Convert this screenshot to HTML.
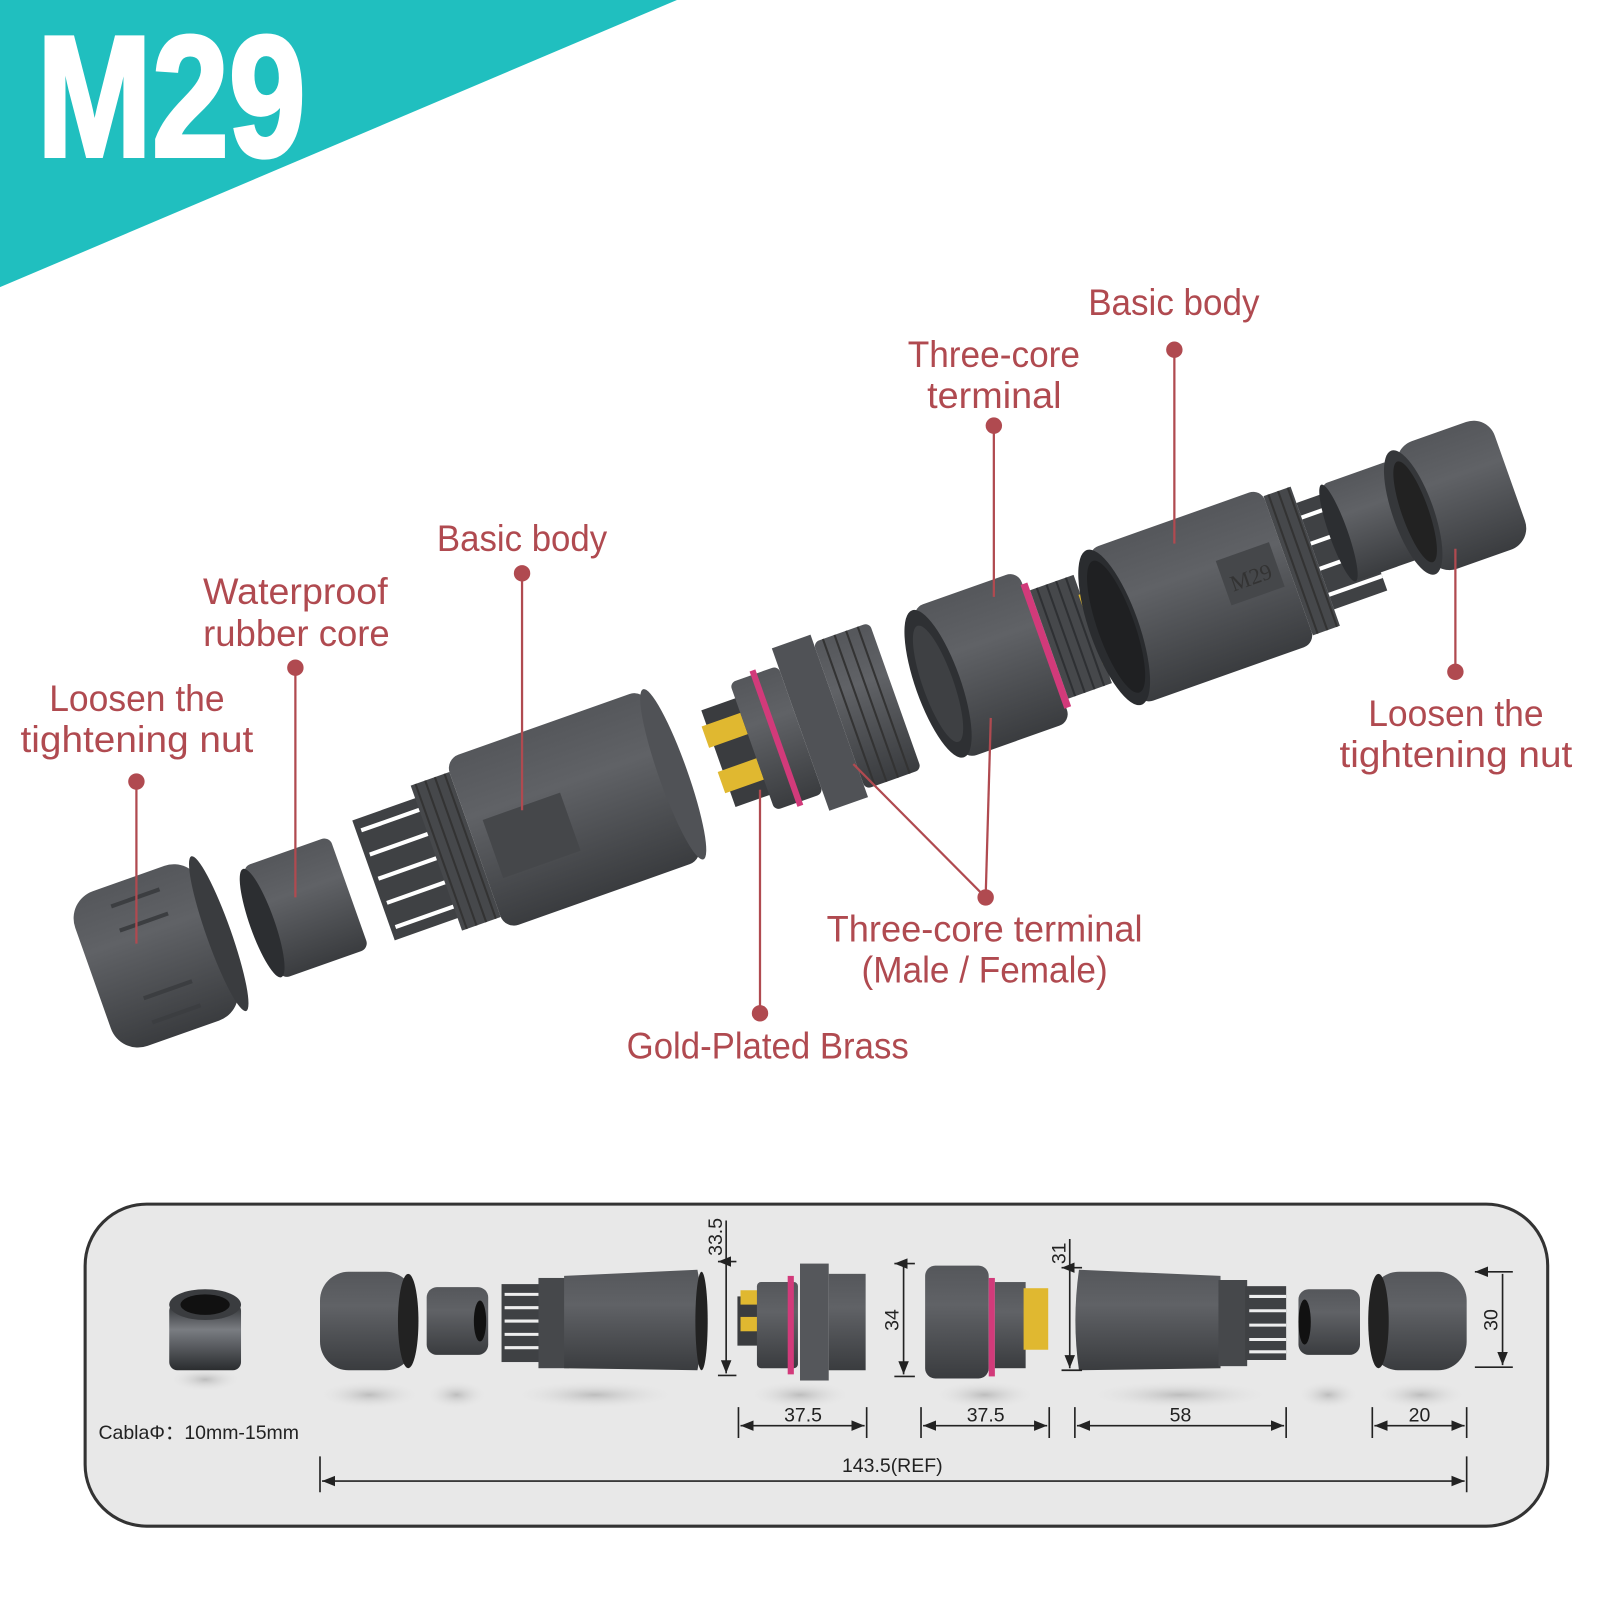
<!DOCTYPE html>
<html><head><meta charset="utf-8"><style>
html,body{margin:0;padding:0;background:#fff;}
svg{display:block}
.lb{font-family:"Liberation Sans Narrow","Liberation Sans",sans-serif;fill:#b04a50;font-size:36px}
.dm{font-family:"Liberation Sans Narrow","Liberation Sans",sans-serif;fill:#222;font-size:19px}
.ln{stroke:#b04a50;stroke-width:2.2;fill:none}
.dl{stroke:#222;stroke-width:1.6;fill:none}
</style></head><body>
<svg width="1600" height="1600" viewBox="0 0 1560 1560" xmlns="http://www.w3.org/2000/svg">
<defs>
<linearGradient id="g" x1="0" y1="0" x2="0" y2="1">
<stop offset="0" stop-color="#55575b"/><stop offset="0.35" stop-color="#606266"/><stop offset="1" stop-color="#3a3c3f"/></linearGradient>
<linearGradient id="gs" x1="0" y1="0" x2="0" y2="1">
<stop offset="0" stop-color="#2a2c2f"/><stop offset="0.4" stop-color="#7a7d82"/><stop offset="1" stop-color="#2a2c2f"/></linearGradient>
<radialGradient id="sh"><stop offset="0" stop-color="#bdbdbd"/><stop offset="1" stop-color="#e8e8e8" stop-opacity="0"/></radialGradient>
<marker id="ar" viewBox="0 0 10 10" refX="10" refY="5" markerWidth="8" markerHeight="8" orient="auto-start-reverse"><path d="M0,1 L10,5 L0,9 z" fill="#222"/></marker>
</defs>
<polygon points="0,0 660,0 0,280" fill="#20bfbf"/>
<text x="36" y="152" font-family="'Liberation Sans',sans-serif" font-weight="bold" font-size="168" fill="#fff" textLength="262" lengthAdjust="spacingAndGlyphs" stroke="#fff" stroke-width="4">M29</text>

<!-- exploded parts -->
<g transform="translate(152,932) rotate(-19.5)">
<rect x="-65" y="-80" width="130" height="160" rx="28" fill="url(#g)"/>
<ellipse cx="65" cy="0" rx="12" ry="80" fill="#3a3c3f"/>
<path d="M-25,-60 h50 M-25,-35 h50 M-25,35 h50 M-25,60 h50" stroke="#3c3e41" stroke-width="4"/>
</g>
<g transform="translate(298,885) rotate(-19.5)">
<rect x="-45" y="-58" width="90" height="116" rx="8" fill="url(#g)"/>
<ellipse cx="-45" cy="0" rx="12" ry="56" fill="#2c2e31"/>
</g>
<g transform="translate(515,805) rotate(-19.5)">
<rect x="-160" y="-62" width="70" height="124" fill="#3f4144"/>
<path d="M-155,-50 h60 M-155,-25 h60 M-155,0 h60 M-155,25 h60 M-155,50 h60" stroke="#fff" stroke-width="4"/>
<rect x="-95" y="-75" width="40" height="150" fill="#46484b"/>
<path d="M-90,-75 v150 M-80,-75 v150 M-70,-75 v150 M-60,-75 v150" stroke="#333" stroke-width="2"/>
<rect x="-55" y="-88" width="205" height="176" rx="14" fill="url(#g)"/>
<ellipse cx="150" cy="0" rx="14" ry="88" fill="#505256"/>
<rect x="-40" y="-20" width="80" height="60" fill="#45474a"/>
</g>
<g transform="translate(790,708) rotate(-19.5)">
<rect x="-95" y="-50" width="40" height="100" fill="#3a3c3f"/>
<rect x="-100" y="-35" width="40" height="22" fill="#e0b830"/>
<rect x="-100" y="12" width="40" height="22" fill="#e0b830"/>
<rect x="-60" y="-66" width="50" height="132" rx="6" fill="url(#g)"/>
<rect x="-38" y="-70" width="6" height="140" fill="#d23a7a"/>
<rect x="-10" y="-84" width="40" height="168" fill="#505256"/>
<rect x="30" y="-76" width="58" height="152" rx="6" fill="url(#g)"/>
<path d="M40,-76 v152 M52,-76 v152 M64,-76 v152 M76,-76 v152" stroke="#333" stroke-width="2"/>
</g>
<g transform="translate(990,640) rotate(-19.5)">
<rect x="-80" y="-78" width="110" height="156" rx="12" fill="url(#g)"/>
<ellipse cx="-80" cy="0" rx="22" ry="76" fill="#2e3033"/>
<ellipse cx="-80" cy="0" rx="15" ry="60" fill="#3e4043"/>
<rect x="28" y="-64" width="7" height="128" fill="#d23a7a"/>
<rect x="35" y="-56" width="45" height="112" fill="#46484b"/>
<path d="M42,-56 v112 M52,-56 v112 M62,-56 v112 M72,-56 v112" stroke="#2e3033" stroke-width="2"/>
<rect x="78" y="-36" width="22" height="20" fill="#e0b830"/>
<rect x="78" y="16" width="22" height="20" fill="#e0b830"/>
</g>
<g transform="translate(1190,575) rotate(-19.5)">
<rect x="-110" y="-80" width="180" height="160" rx="12" fill="url(#g)"/>
<ellipse cx="-110" cy="0" rx="24" ry="80" fill="#2a2c2f"/>
<ellipse cx="-108" cy="0" rx="18" ry="68" fill="#1f2022"/>
<rect x="70" y="-72" width="28" height="144" fill="#46484b"/>
<path d="M75,-72 v144 M85,-72 v144 M95,-72 v144" stroke="#333" stroke-width="2"/>
<rect x="98" y="-55" width="55" height="110" fill="#3f4144"/>
<path d="M98,-40 h55 M98,-13 h55 M98,13 h55 M98,40 h55" stroke="#fff" stroke-width="4"/>
<rect x="5" y="-28" width="55" height="46" fill="#45474a"/>
<text x="32" y="6" text-anchor="middle" font-family="'Liberation Serif',serif" font-size="22" fill="#333">M29</text>
</g>
<g transform="translate(1338,508) rotate(-19.5)">
<rect x="-35" y="-50" width="70" height="100" rx="6" fill="url(#g)"/>
<ellipse cx="-35" cy="0" rx="9" ry="50" fill="#2c2e31"/>
</g>
<g transform="translate(1425,483) rotate(-19.5)">
<rect x="-50" y="-66" width="100" height="132" rx="22" fill="url(#g)"/>
<ellipse cx="-50" cy="0" rx="20" ry="64" fill="#35373a"/>
<ellipse cx="-48" cy="0" rx="13" ry="52" fill="#222"/>
</g>

<!-- leader lines -->
<g class="ln">
<path d="M133,762 V920"/><path d="M288,651 V875"/><path d="M509,559 V790"/>
<path d="M969,415 V582"/><path d="M1145,341 V530"/><path d="M1419,655 V535"/>
<path d="M741,988 V770"/><path d="M961,875 L966,700"/><path d="M961,875 L832,745"/>
</g>
<g fill="#b04a50">
<circle cx="133" cy="762" r="8"/><circle cx="288" cy="651" r="8"/><circle cx="509" cy="559" r="8"/>
<circle cx="969" cy="415" r="8"/><circle cx="1145" cy="341" r="8"/><circle cx="1419" cy="655" r="8"/>
<circle cx="741" cy="988" r="8"/><circle cx="961" cy="875" r="8"/>
</g>
<g class="lb">
<text x="426" y="537" textLength="166" lengthAdjust="spacingAndGlyphs">Basic body</text>
<text x="198" y="589" textLength="180" lengthAdjust="spacingAndGlyphs">Waterproof</text>
<text x="198" y="630" textLength="182" lengthAdjust="spacingAndGlyphs">rubber core</text>
<text x="48" y="693" textLength="171" lengthAdjust="spacingAndGlyphs">Loosen the</text>
<text x="20" y="733" textLength="227" lengthAdjust="spacingAndGlyphs">tightening nut</text>
<text x="885" y="358" textLength="168" lengthAdjust="spacingAndGlyphs">Three-core</text>
<text x="904" y="398" textLength="131" lengthAdjust="spacingAndGlyphs">terminal</text>
<text x="1061" y="307" textLength="167" lengthAdjust="spacingAndGlyphs">Basic body</text>
<text x="1334" y="708" textLength="171" lengthAdjust="spacingAndGlyphs">Loosen the</text>
<text x="1306" y="748" textLength="227" lengthAdjust="spacingAndGlyphs">tightening nut</text>
<text x="806" y="918" textLength="308" lengthAdjust="spacingAndGlyphs">Three-core terminal</text>
<text x="840" y="958" textLength="240" lengthAdjust="spacingAndGlyphs">(Male / Female)</text>
<text x="611" y="1032" textLength="275" lengthAdjust="spacingAndGlyphs">Gold-Plated Brass</text>
</g>

<!-- bottom panel -->
<rect x="83" y="1174" width="1426" height="314" rx="60" fill="#e8e8e8" stroke="#333" stroke-width="3"/>
<g fill="url(#sh)">
<ellipse cx="200" cy="1345" rx="35" ry="12"/><ellipse cx="360" cy="1360" rx="50" ry="14"/><ellipse cx="445" cy="1360" rx="30" ry="14"/>
<ellipse cx="580" cy="1360" rx="80" ry="14"/><ellipse cx="780" cy="1360" rx="50" ry="14"/><ellipse cx="960" cy="1360" rx="50" ry="14"/>
<ellipse cx="1150" cy="1360" rx="90" ry="14"/><ellipse cx="1295" cy="1360" rx="30" ry="14"/><ellipse cx="1385" cy="1360" rx="45" ry="14"/>
</g>
<rect x="165" y="1270" width="70" height="66" rx="8" fill="url(#gs)"/>
<ellipse cx="200" cy="1272" rx="35" ry="15" fill="#3a3c3f"/><ellipse cx="200" cy="1272" rx="24" ry="10" fill="#111"/>
<rect x="312" y="1240" width="92" height="96" rx="28" fill="url(#g)"/><ellipse cx="398" cy="1288" rx="10" ry="46" fill="#222"/>
<rect x="416" y="1255" width="60" height="66" rx="10" fill="url(#g)"/><ellipse cx="468" cy="1288" rx="6" ry="20" fill="#111"/>
<rect x="489" y="1252" width="40" height="76" fill="#3f4144"/>
<path d="M492,1262 h35 M492,1275 h35 M492,1288 h35 M492,1301 h35 M492,1314 h35" stroke="#eee" stroke-width="3"/>
<rect x="525" y="1246" width="30" height="88" fill="#46484b"/>
<path d="M550,1244 L680,1238 Q690,1288 680,1336 L550,1334 Z" fill="url(#g)"/>
<ellipse cx="684" cy="1288" rx="6" ry="48" fill="#222"/>
<rect x="719" y="1264" width="20" height="48" fill="#3a3c3f"/><rect x="722" y="1258" width="18" height="14" fill="#e0b830"/><rect x="722" y="1284" width="18" height="14" fill="#e0b830"/>
<rect x="738" y="1250" width="40" height="84" rx="4" fill="url(#g)"/><rect x="768" y="1244" width="6" height="96" fill="#d23a7a"/>
<rect x="780" y="1232" width="28" height="114" fill="#55575b"/><rect x="808" y="1242" width="36" height="94" fill="url(#g)"/>
<rect x="902" y="1234" width="62" height="110" rx="10" fill="url(#g)"/><rect x="964" y="1246" width="6" height="96" fill="#d23a7a"/>
<rect x="970" y="1250" width="30" height="84" fill="url(#g)"/><rect x="998" y="1256" width="24" height="60" fill="#e0b830"/>
<path d="M1052,1238 L1190,1244 L1190,1334 L1052,1336 Q1045,1288 1052,1238Z" fill="url(#g)"/>
<rect x="1188" y="1248" width="28" height="84" fill="#46484b"/><rect x="1214" y="1254" width="40" height="72" fill="#3f4144"/>
<path d="M1218,1264 h36 M1218,1278 h36 M1218,1292 h36 M1218,1306 h36 M1218,1318 h36" stroke="#eee" stroke-width="3"/>
<rect x="1266" y="1257" width="60" height="64" rx="10" fill="url(#g)"/><ellipse cx="1272" cy="1289" rx="6" ry="22" fill="#111"/>
<rect x="1336" y="1240" width="94" height="96" rx="28" fill="url(#g)"/><ellipse cx="1344" cy="1288" rx="10" ry="46" fill="#222"/>

<g class="dl">
<path d="M700,1230 H718 M700,1341 H718 M708,1232 V1339" marker-start="url(#ar)" marker-end="url(#ar)"/>
<path d="M872,1232 H892 M872,1342 H892 M881,1234 V1340" marker-start="url(#ar)" marker-end="url(#ar)"/>
<path d="M1035,1236 H1055 M1035,1336 H1055 M1043,1238 V1334" marker-start="url(#ar)" marker-end="url(#ar)"/>
<path d="M1438,1240 H1475 M1438,1333 H1475 M1465,1242 V1331" marker-start="url(#ar)" marker-end="url(#ar)"/>
<path d="M708,1190 V1232 M1043,1208 V1238"/>
<path d="M720,1372 V1402 M845,1372 V1402 M898,1372 V1402 M1023,1372 V1402 M1048,1372 V1402 M1254,1372 V1402 M1338,1372 V1402 M1430,1372 V1402 M312,1420 V1455 M1430,1420 V1455"/>
<path d="M722,1390 H843" marker-start="url(#ar)" marker-end="url(#ar)"/>
<path d="M900,1390 H1021" marker-start="url(#ar)" marker-end="url(#ar)"/>
<path d="M1050,1390 H1252" marker-start="url(#ar)" marker-end="url(#ar)"/>
<path d="M1340,1390 H1428" marker-start="url(#ar)" marker-end="url(#ar)"/>
<path d="M314,1444 H1428" marker-start="url(#ar)" marker-end="url(#ar)"/>
</g>
<g class="dm">
<text x="783" y="1386" text-anchor="middle">37.5</text>
<text x="961" y="1386" text-anchor="middle">37.5</text>
<text x="1151" y="1386" text-anchor="middle">58</text>
<text x="1384" y="1386" text-anchor="middle">20</text>
<text x="870" y="1435" text-anchor="middle">143.5(REF)</text>
<text x="96" y="1403">CablaΦ：10mm-15mm</text>
<text transform="translate(704,1206) rotate(-90)" text-anchor="middle">33.5</text>
<text transform="translate(876,1287) rotate(-90)" text-anchor="middle">34</text>
<text transform="translate(1039,1222) rotate(-90)" text-anchor="middle">31</text>
<text transform="translate(1460,1287) rotate(-90)" text-anchor="middle">30</text>
</g>
</svg>
</body></html>
